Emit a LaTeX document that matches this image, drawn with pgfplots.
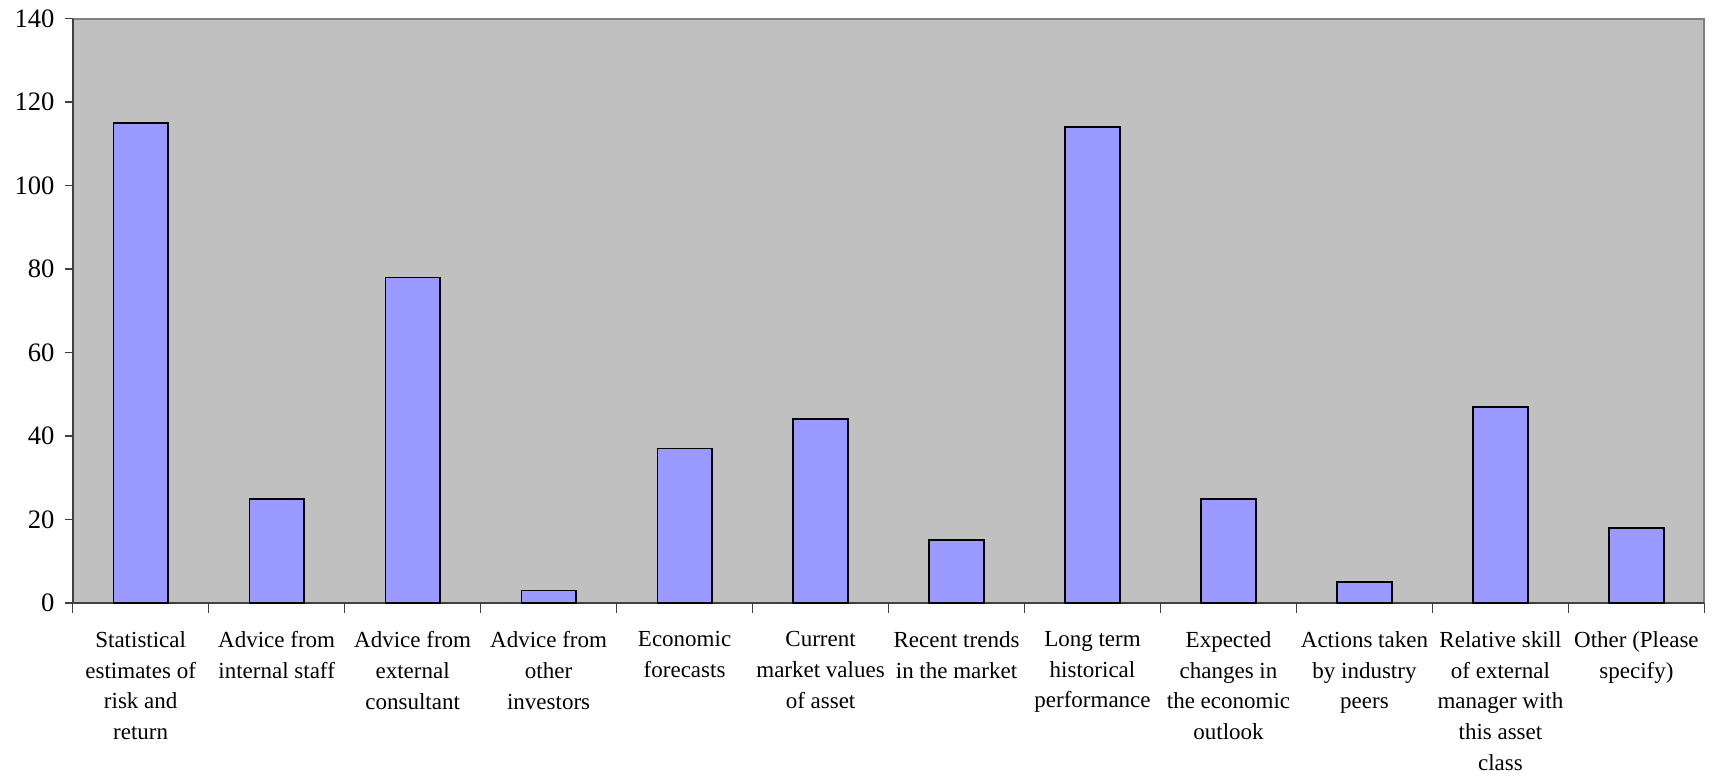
\documentclass[border=0pt]{standalone}
\usepackage{fontspec}
\setmainfont{Liberation Serif}
\usepackage{pgfplots}
\pgfplotsset{compat=1.18}
\definecolor{plotbg}{HTML}{C0C0C0}
\definecolor{barfill}{HTML}{9999FF}
\definecolor{frame}{HTML}{808080}
\definecolor{axisline}{HTML}{404040}
\begin{document}
\begin{tikzpicture}
\useasboundingbox (-36.35pt,-87pt) rectangle (822.15pt,301.5pt);
\begin{axis}[
  at={(0,0)}, anchor=south west,
  scale only axis,
  width=815.85pt, height=292.2pt,
  xmin=-0.5, xmax=11.5,
  ymin=0, ymax=140,
  ytick={0,20,...,140},
  xtick={0,...,11},
  minor xtick={-0.5,0.5,...,11.5},
  xticklabels={
    Statistical\\estimates of\\risk and\\return,
    Advice from\\internal staff,
    Advice from\\external\\consultant,
    Advice from\\other\\investors,
    Economic\\forecasts,
    Current\\market values\\of asset,
    Recent trends\\in the market,
    Long term\\historical\\performance,
    Expected\\changes in\\the economic\\outlook,
    Actions taken\\by industry\\peers,
    Relative skill\\of external\\manager with\\this asset\\class,
    Other (Please\\specify)
  },
  axis x line*=bottom,
  axis y line*=left,
  axis line style={-, draw=axisline, line width=1pt},
  axis background/.style={fill=plotbg, draw=frame, line width=1pt},
  tick align=outside,
  x tick style={draw=none},
  minor x tick style={draw=axisline, line width=0.6pt},
  minor tick length=5pt,
  y tick style={draw=axisline, line width=0.8pt},
  major tick length=4pt,
  xticklabel style={align=center, anchor=north, yshift=-6.8pt,
    font=\fontsize{11.5}{15.3}\selectfont},
  yticklabel style={font=\fontsize{13.3}{15}\selectfont, xshift=-1.6pt},
  /pgf/number format/assume math mode=true,
  ybar,
  bar width=0.4,
]
\addplot[fill=barfill, draw=black, line width=0.9pt] coordinates {
  (0,115) (1,25) (2,78) (3,3) (4,37) (5,44)
  (6,15) (7,114) (8,25) (9,5) (10,47) (11,18)
};
\end{axis}
\end{tikzpicture}
\end{document}
